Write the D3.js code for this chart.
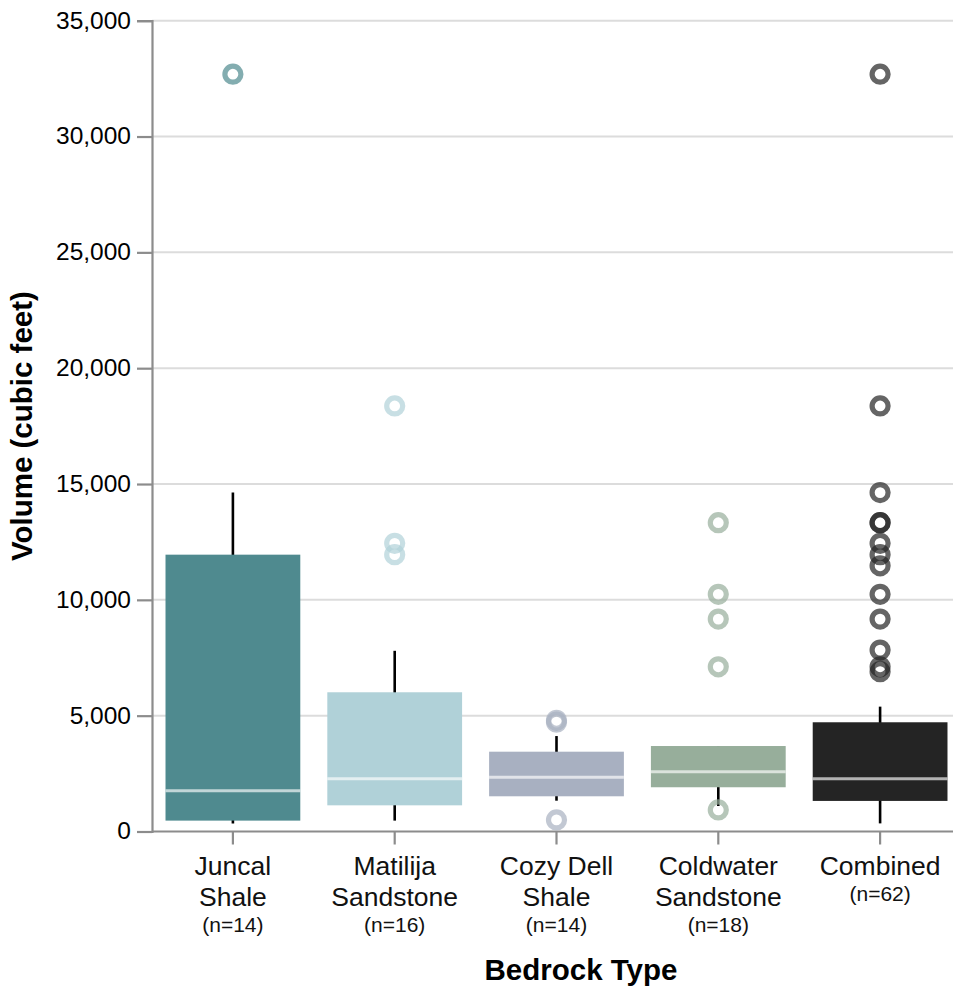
<!DOCTYPE html>
<html>
<head>
<meta charset="utf-8">
<script src="https://cdn.jsdelivr.net/npm/d3@7"></script>
<style>
  body { margin: 0; background: #fff; }
  svg { display: block; }
  text { font-family: "Liberation Sans", Arial, Helvetica, sans-serif; fill: #000; }
</style>
</head>
<body>
<svg id="chart" width="953" height="990"></svg>
<script>
// Landslide volume by bedrock type: box summaries and outliers
const categories = ["Juncal Shale", "Matilija Sandstone", "Cozy Dell Shale", "Coldwater Sandstone", "Combined"];
const labelLines = [["Juncal", "Shale"], ["Matilija", "Sandstone"], ["Cozy Dell", "Shale"], ["Coldwater", "Sandstone"], ["Combined"]];
const sampleCounts = [14, 16, 14, 18, 62];
const q1 = [470, 1130, 1520, 1910, 1320];
const median = [1760, 2280, 2340, 2580, 2280];
const q3 = [11950, 6010, 3445, 3690, 4715];
const whiskerLow = [350, 470, 1330, 1100, 350];
const whiskerHigh = [14630, 7800, 4120, 3690, 5390];
const outliers = [
  [32690],
  [18370, 12440, 11950],
  [4720, 4800, 500],
  [13330, 10240, 9170, 7110, 930],
  [32690, 18370, 14630, 13330, 13330, 12440, 11950, 11470, 10240, 9170, 7830, 7110, 6900]
];
const yTicks = [0, 5000, 10000, 15000, 20000, 25000, 30000, 35000];

const palette = ["#4f8a8f", "#b0d1d8", "#a8b0c1", "#97ae9b", "#242424"];

const svg = d3.select("#chart");
const plotLeft = 152, plotRight = 961, plotTop = 20.7, plotBottom = 831.5;

const x = d3.scaleBand().domain(categories).range([plotLeft, plotRight]).paddingInner(0).paddingOuter(0);
const y = d3.scaleLinear().domain([0, 35000]).range([plotBottom, plotTop]);
const color = d3.scaleOrdinal().domain(categories).range(palette);
const boxW = x.bandwidth() * 0.833;

// Gridlines
svg.append("g").selectAll("line").data(yTicks.filter(d => d > 0)).join("line")
  .attr("x1", plotLeft).attr("x2", 953)
  .attr("y1", d => y(d)).attr("y2", d => y(d))
  .attr("stroke", "#dcdcdc").attr("stroke-width", 2);

// Y axis
const yAxis = svg.append("g").attr("transform", `translate(${plotLeft},0)`)
  .call(d3.axisLeft(y).tickValues(yTicks).tickFormat(d3.format(",")).tickSize(15).tickPadding(6));
yAxis.select(".domain").attr("stroke", "#8c8c8c").attr("stroke-width", 2.2);
yAxis.selectAll(".tick line").attr("stroke", "#8c8c8c").attr("stroke-width", 2.2);
yAxis.selectAll(".tick text").attr("font-size", 24.5).attr("dy", "0.3em")
  .attr("font-family", "'Liberation Sans', Arial, sans-serif").attr("fill", "#111");

// X axis
const xAxis = svg.append("g").attr("transform", `translate(0,${plotBottom})`)
  .call(d3.axisBottom(x).tickSize(13).tickFormat(""));
xAxis.select(".domain").attr("stroke", "#8c8c8c").attr("stroke-width", 2.2).attr("d", `M${plotLeft},0H953`);
xAxis.selectAll(".tick line").attr("stroke", "#8c8c8c").attr("stroke-width", 2.2);

// Category labels
const labels = svg.append("g").selectAll("text").data(categories).join("text")
  .attr("text-anchor", "middle")
  .attr("transform", d => `translate(${x(d) + x.bandwidth() / 2},0)`);
labels.each(function (d, i) {
  const t = d3.select(this);
  labelLines[i].forEach((line, k) => {
    t.append("tspan").attr("x", 0).attr("y", 875 + k * 30.5)
      .attr("font-size", 26.5).attr("fill", "#111").text(line);
  });
  t.append("tspan").attr("x", 0).attr("y", 875 + (labelLines[i].length - 1) * 30.5 + 26)
    .attr("font-size", 21).attr("fill", "#111").text(`(n=${sampleCounts[i]})`);
});

// Whiskers
const groups = svg.append("g").selectAll("g").data(categories).join("g")
  .attr("transform", d => `translate(${x(d) + x.bandwidth() / 2},0)`);

groups.append("line")
  .attr("x1", 0).attr("x2", 0)
  .attr("y1", (d, i) => y(whiskerHigh[i])).attr("y2", (d, i) => y(whiskerLow[i]))
  .attr("stroke", "#000").attr("stroke-width", 2.6);

// Boxes
groups.append("rect")
  .attr("x", -boxW / 2).attr("width", boxW)
  .attr("y", (d, i) => y(q3[i]))
  .attr("height", (d, i) => y(q1[i]) - y(q3[i]))
  .attr("fill", d => color(d));

// Medians
groups.append("line")
  .attr("x1", -boxW / 2).attr("x2", boxW / 2)
  .attr("y1", (d, i) => y(median[i])).attr("y2", (d, i) => y(median[i]))
  .attr("stroke", "#fff").attr("stroke-opacity", 0.65).attr("stroke-width", 3);

// Outliers
groups.each(function (d, i) {
  d3.select(this).selectAll("circle").data(outliers[i]).join("circle")
    .attr("cx", 0).attr("cy", v => y(v)).attr("r", 8)
    .attr("fill", "none").attr("stroke", color(d))
    .attr("stroke-width", 5.2).attr("stroke-opacity", 0.7);
});

// Axis titles
svg.append("text")
  .attr("transform", `translate(32,${(plotTop + plotBottom) / 2}) rotate(-90)`)
  .attr("text-anchor", "middle").attr("font-size", 29.5).attr("font-weight", "bold")
  .text("Volume (cubic feet)");

svg.append("text")
  .attr("x", 581).attr("y", 980)
  .attr("text-anchor", "middle").attr("font-size", 29.5).attr("font-weight", "bold")
  .text("Bedrock Type");
</script>
</body>
</html>
